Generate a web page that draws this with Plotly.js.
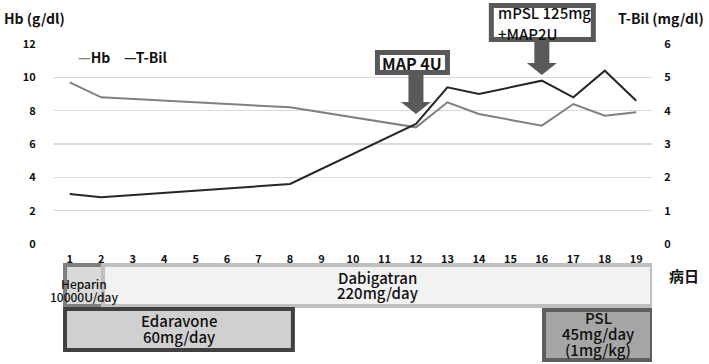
<!DOCTYPE html>
<html><head><meta charset="utf-8">
<script src="https://cdn.plot.ly/plotly-3.0.1.min.js"></script>
<style>html,body{margin:0;padding:0;background:#fff}</style>
</head><body>
<div id="chart" style="width:709px;height:364px"></div>
<script>
// ---- data ----
const days = [1,2,3,4,5,6,7,8,9,10,11,12,13,14,15,16,17,18,19];
const seriesNames = ['Hb','T-Bil'];
const hbDays = [1,2,8,12,13,14,16,17,18,19];
const hbValues = [9.7,8.8,8.2,7.0,8.5,7.8,7.1,8.4,7.7,7.9];
const tbilDays = [1,2,8,12,13,14,16,17,18,19];
const tbilValues = [1.5,1.4,1.8,3.6,4.7,4.5,4.9,4.4,5.2,4.3];
const hbTicks = [0,2,4,6,8,10,12];
const tbilTicks = [0,1,2,3,4,5,6];
const treatmentLines = [['Heparin','10000U/day'],['Dabigatran','220mg/day'],['Edaravone','60mg/day'],['PSL','45mg/day','(1mg/kg)']];
const treatmentStart = [0.85,2.06,0.85,16.07];
const treatmentEnd = [2.06,19.5,8.09,19.5];
const eventLines = [['MAP 4U'],['mPSL 125mg','+MAP2U']];
const eventDays = [12,16];

// ---- styles / placement ----
const FONT = '"Noto Sans CJK JP","Noto Sans",sans-serif';
const seriesColors = ['#808080','#262626'];
const PH = 200; // plot height px
const PW = 598; // plot width px
const py = p => (244 - p) / PH; // pixel row -> paper y
const px = p => (p - 54) / PW;  // pixel col -> paper x
const rows = [[265,306],[265,306],[309,350],[310,360]];
const tStyle = [
  {line:'#7f7f7f', fill:'#d9d9d9', size:12, lineY:[283.5,296.5]},
  {line:'#bfbfbf', fill:'#f2f2f2', size:15, lineY:[277,292.5]},
  {line:'#404040', fill:'#d0d0d0', size:15, lineY:[320.5,336.5]},
  {line:'#5f5f5f', fill:'#a6a6a6', size:15, lineY:[317.5,333.5,349.5]}
];

const shapes = [];
const annotations = [];
treatmentLines.forEach((lines,i)=>{
  shapes.push({type:'rect', xref:'x', yref:'paper', x0:treatmentStart[i], x1:treatmentEnd[i],
    y0:py(rows[i][0]), y1:py(rows[i][1]), line:{color:tStyle[i].line, width:4}, fillcolor:tStyle[i].fill, layer:'above'});
});
treatmentLines.forEach((lines,i)=>{
  lines.forEach((t,j)=>{
    annotations.push({xref:'x', yref:'paper', x:(treatmentStart[i]+treatmentEnd[i])/2, y:py(tStyle[i].lineY[j]),
      yanchor:'middle', xanchor:'center', text:t, showarrow:false,
      font:{family:FONT, size:tStyle[i].size, color:'#111', weight:500}});
  });
});

// event boxes + block arrows (pixel geometry relative to the arrow tip)
const tipPx = [114, 75];
const shaftTop = [39, 34];          // px above the tip
const boxRect = [[-38.5,31.5,41.5,61.5],[-50.5,51.5,35.5,69.5]]; // x0,x1,y0,y1 px rel. to tip
const textPx = [[62.5],[12.5,33]];
const textShift = [-3.5,-46];
const textFont = [{size:16, weight:'bold'},{size:15, weight:500}];
eventLines.forEach((lines,i)=>{
  const L = shaftTop[i];
  shapes.push({type:'path', xref:'x', yref:'paper', xsizemode:'pixel', ysizemode:'pixel',
    xanchor:eventDays[i], yanchor:py(tipPx[i]),
    path:`M0,0 L-15,12 L-7.5,12 L-7.5,${L} L7.5,${L} L7.5,12 L15,12 Z`,
    fillcolor:'#595959', line:{width:0}, layer:'above'});
  const b = boxRect[i];
  shapes.push({type:'rect', xref:'x', yref:'paper', xsizemode:'pixel', ysizemode:'pixel',
    xanchor:eventDays[i], yanchor:py(tipPx[i]), x0:b[0], x1:b[1], y0:b[2], y1:b[3],
    fillcolor:'#fff', line:{color:'#595959', width:5}, layer:'above'});
  lines.forEach((t,j)=>{
    annotations.push({xref:'x', yref:'paper', x:eventDays[i], xshift:textShift[i], y:py(textPx[i][j]),
      xanchor: i===0 ? 'center' : 'left', yanchor:'middle', text:t, showarrow:false,
      font:{family:FONT, size:textFont[i].size, color:'#111', weight:textFont[i].weight}});
  });
});

// legend drawn as short dash + name, like the original
const legendX = [76, 122];
seriesNames.forEach((n,i)=>{
  annotations.push({xref:'paper', yref:'paper', x:px(legendX[i]), y:py(57), xanchor:'left', yanchor:'middle',
    text:`<span style="color:${seriesColors[i]}">—</span>${n}`, showarrow:false,
    font:{family:FONT, size:14, color:'#111', weight:'bold'}});
});

// axis titles & misc labels
annotations.push({xref:'paper', yref:'paper', x:px(2), y:py(18), xanchor:'left', yanchor:'middle', text:'Hb (g/dl)',
  showarrow:false, font:{family:FONT, size:14, color:'#111', weight:'bold'}});
annotations.push({xref:'paper', yref:'paper', x:px(706), y:py(18), xanchor:'right', yanchor:'middle', text:'T-Bil (mg/dl)',
  showarrow:false, font:{family:FONT, size:14, color:'#111', weight:'bold'}});
annotations.push({xref:'paper', yref:'paper', x:px(684), y:py(275), xanchor:'center', yanchor:'middle', text:'病日',
  showarrow:false, font:{family:FONT, size:15, color:'#111', weight:'bold'}});

const traces = [
  {x:hbDays, y:hbValues, name:seriesNames[0], type:'scatter', mode:'lines', line:{color:seriesColors[0], width:2}, yaxis:'y'},
  {x:tbilDays, y:tbilValues, name:seriesNames[1], type:'scatter', mode:'lines', line:{color:seriesColors[1], width:2}, yaxis:'y2'}
];

const layout = {
  width:709, height:364,
  margin:{l:54, r:57, t:44, b:120},
  paper_bgcolor:'#fff', plot_bgcolor:'#fff',
  font:{family:FONT, color:'#111'},
  showlegend:false,
  xaxis:{range:[0.5,19.5], tickvals:days, ticktext:days.map(String), showgrid:false, zeroline:false,
    showline:false, ticks:'outside', ticklen:5, tickcolor:'rgba(0,0,0,0)', tickfont:{family:FONT, size:11, weight:'bold'}},
  yaxis:{range:[0,12], tickvals:hbTicks, showgrid:true, gridcolor:'#d9d9d9', gridwidth:1.5, zeroline:false,
    showline:false, ticks:'outside', ticklen:15, tickcolor:'rgba(0,0,0,0)', tickfont:{family:FONT, size:11, weight:'bold'}},
  yaxis2:{range:[0,6], tickvals:tbilTicks, overlaying:'y', side:'right', showgrid:false, zeroline:false,
    showline:false, ticks:'outside', ticklen:9, tickcolor:'rgba(0,0,0,0)', tickfont:{family:FONT, size:11, weight:'bold'}},
  shapes:shapes, annotations:annotations
};
Plotly.newPlot('chart', traces, layout, {displayModeBar:false, staticPlot:true});
</script>
</body></html>
